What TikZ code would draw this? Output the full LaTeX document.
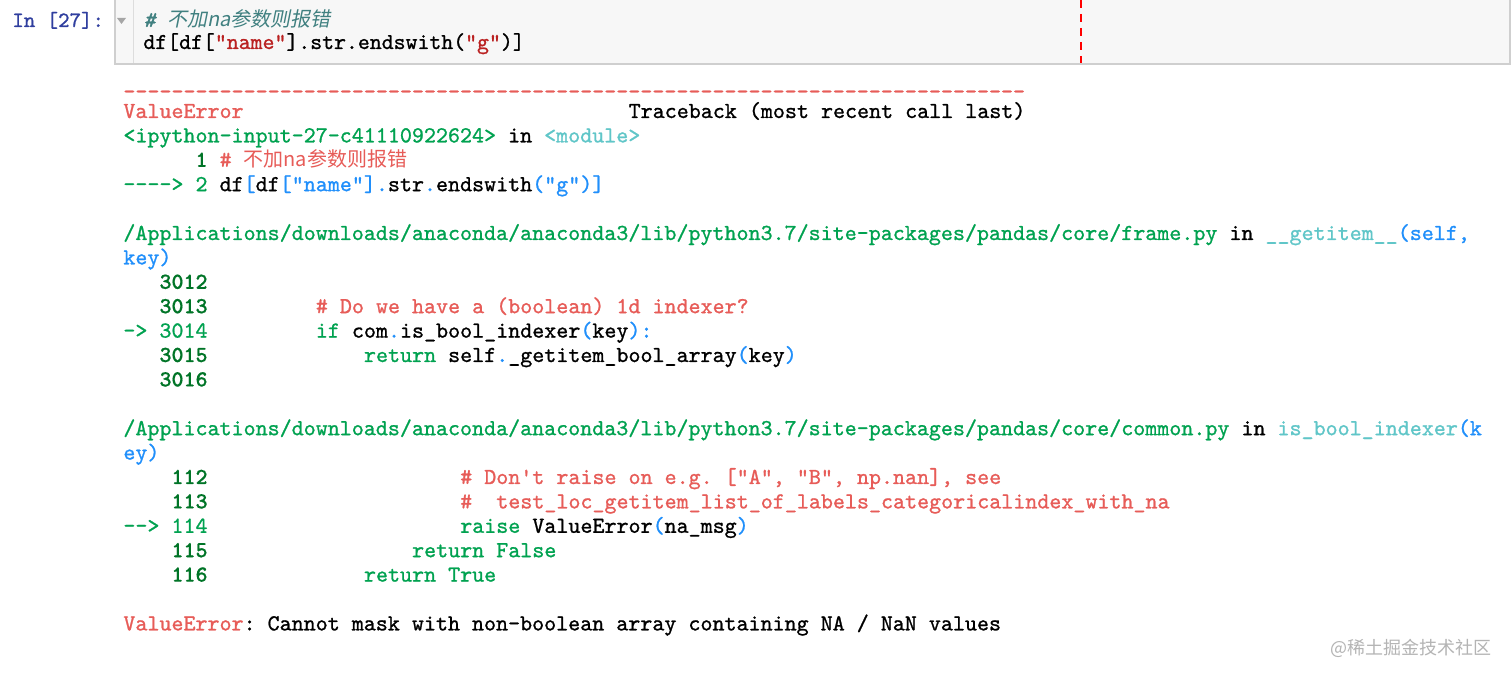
\documentclass[tikz,border=0pt]{standalone}
\usepackage{fontspec}
\newfontfamily\tbfont{lmmono10-regular.otf}[FakeBold=1, BoldFont=lmmonolt10-bold.otf, BoldFeatures={FakeBold=0.6}, ItalicFont=lmmono10-italic.otf, ItalicFeatures={FakeBold=1}]
\newfontfamily\cjk{Noto Sans CJK SC}
\newfontfamily\cjkit{Noto Sans CJK SC}[FakeSlant=0.2]
\frenchspacing
\definecolor{ansired}{HTML}{E75C58}
\definecolor{ansigreen}{HTML}{00A250}
\definecolor{ansigreendk}{HTML}{007427}
\definecolor{ansicyan}{HTML}{60C6C8}
\definecolor{ansiblue}{HTML}{208FFB}
\definecolor{promptblue}{HTML}{303F9F}
\definecolor{incomment}{HTML}{408080}
\definecolor{instring}{HTML}{BA2121}
\definecolor{cellfill}{HTML}{F7F7F7}
\definecolor{cellline}{HTML}{CFCFCF}
\definecolor{wmgray}{HTML}{B4B4B4}
\newcommand{\Rd}[1]{\textcolor{ansired}{#1}}
\newcommand{\Gn}[1]{\textcolor{ansigreen}{#1}}
\newcommand{\Bl}[1]{\textcolor{ansiblue}{#1}}
\newcommand{\Cy}[1]{\textcolor{ansicyan}{#1}}
\newcommand{\zh}[1]{{\fontsize{10pt}{12pt}\selectfont\cjk #1}}
\tikzset{
	tb/.style={anchor=base west, inner sep=0pt, font=\fontsize{11.45pt}{13pt}\selectfont\tbfont\frenchspacing},
	lineno/.style={tb, text=ansigreendk, font=\fontsize{11.45pt}{13pt}\selectfont\tbfont\bfseries},
	incode/.style={anchor=base west, inner sep=0pt, font=\fontsize{11.35pt}{13pt}\selectfont\tbfont},
	cellbox/.style={draw=cellline, fill=cellfill, line width=1pt},
	watermark/.style={anchor=base east, inner sep=0pt, text=wmgray, font=\fontsize{9pt}{11pt}\selectfont\cjk}
}
\begin{document}
\begin{tikzpicture}[x=0.5pt, y=-0.5pt]
	\useasboundingbox (0,0) rectangle (1512,679);
	\fill[white] (0,0) rectangle (1512,679);
	\draw[cellbox] (115,-10) rectangle (1510,64);
	\draw[cellline!70, line width=0.5pt] (133,0) -- (133,63);
	\fill[gray!70] (117,18) -- (126,18) -- (121.5,24) -- cycle;
	\draw[red, line width=0.6pt, dash pattern=on 4 off 3] (1081,0) -- (1081,63);
	\node[tb, text=promptblue, font=\fontsize{10.9pt}{12pt}\selectfont\tbfont] (prompt) at (12,27) {In [27]:};
	\node[incode, text=incomment] (incomment) at (143,27) {\itshape\# {\fontsize{10pt}{12pt}\selectfont\cjkit 不加na参数则报错}};
	\node[incode] (incode) at (143,49) {df[df[\textcolor{instring}{"name"}].str.endswith(\textcolor{instring}{"g"})]};
	\begin{scope}[shift={(123,118)}, x=6.015pt, y=-12.2pt]
		\node[tb, text=ansired, text height=4pt, text depth=0pt] (rule) at (0,-0.8) {---------------------------------------------------------------------------};
		\node[tb, text=ansired] (err) at (0,0) {ValueError};
		\node[tb] (tbhead) at (42,0) {Traceback (most recent call last)};
		\node[tb] (frame0) at (0,1) {\Gn{<ipython-input-27-c41110922624>} in \Cy{<module>}};
		\node[lineno] (n1) at (6,2) {1};
		\node[tb, text=ansired] (c1) at (8,2) {\# \zh{不加na参数则报错}};
		\node[tb, text=ansigreen] (a2) at (0,3) {----> 2};
		\node[tb] (c2) at (8,3) {df\Bl{[}df\Bl{[}\Bl{"name"}\Bl{]}\Bl{.}str\Bl{.}endswith\Bl{(}\Bl{"g"}\Bl{)}\Bl{]}};
		\node[tb] (frame1) at (0,5) {\Gn{/Applications/downloads/anaconda/anaconda3/lib/python3.7/site-packages/pandas/core/frame.py} in \Cy{\_\_getitem\_\_}\Bl{(self,}};
		\node[tb, text=ansiblue] (frame1b) at (0,6) {key)};
		\node[lineno] (n3012) at (3,7) {3012};
		\node[lineno] (n3013) at (3,8) {3013};
		\node[tb, text=ansired] (c3013) at (16,8) {\# Do we have a (boolean) 1d indexer?};
		\node[tb, text=ansigreen] (a3014) at (0,9) {-> 3014};
		\node[tb] (c3014) at (16,9) {\Gn{if} com\Bl{.}is\_bool\_indexer\Bl{(}key\Bl{):}};
		\node[lineno] (n3015) at (3,10) {3015};
		\node[tb] (c3015) at (20,10) {\Gn{return} self\Bl{.}\_getitem\_bool\_array\Bl{(}key\Bl{)}};
		\node[lineno] (n3016) at (3,11) {3016};
		\node[tb] (frame2) at (0,13) {\Gn{/Applications/downloads/anaconda/anaconda3/lib/python3.7/site-packages/pandas/core/common.py} in \Cy{is\_bool\_indexer}\Bl{(k}};
		\node[tb, text=ansiblue] (frame2b) at (0,14) {ey)};
		\node[lineno] (n112) at (4,15) {112};
		\node[tb, text=ansired] (c112) at (28,15) {\# Don't raise on e.g. ["A", "B", np.nan], see};
		\node[lineno] (n113) at (4,16) {113};
		\node[tb, text=ansired] (h113) at (28,16) {\#};
		\node[tb, text=ansired] (c113) at (31,16) {test\_loc\_getitem\_list\_of\_labels\_categoricalindex\_with\_na};
		\node[tb, text=ansigreen] (a114) at (0,17) {--> 114};
		\node[tb] (c114) at (28,17) {\Gn{raise} ValueError\Bl{(}na\_msg\Bl{)}};
		\node[lineno] (n115) at (4,18) {115};
		\node[tb, text=ansigreen] (c115) at (24,18) {return False};
		\node[lineno] (n116) at (4,19) {116};
		\node[tb, text=ansigreen] (c116) at (20,19) {return True};
		\node[tb] (msg) at (0,21) {\Rd{ValueError}: Cannot mask with non-boolean array containing NA / NaN values};
	\end{scope}
	\node[watermark] (wm) at (1492,654) {@稀土掘金技术社区};
\end{tikzpicture}
\end{document}
